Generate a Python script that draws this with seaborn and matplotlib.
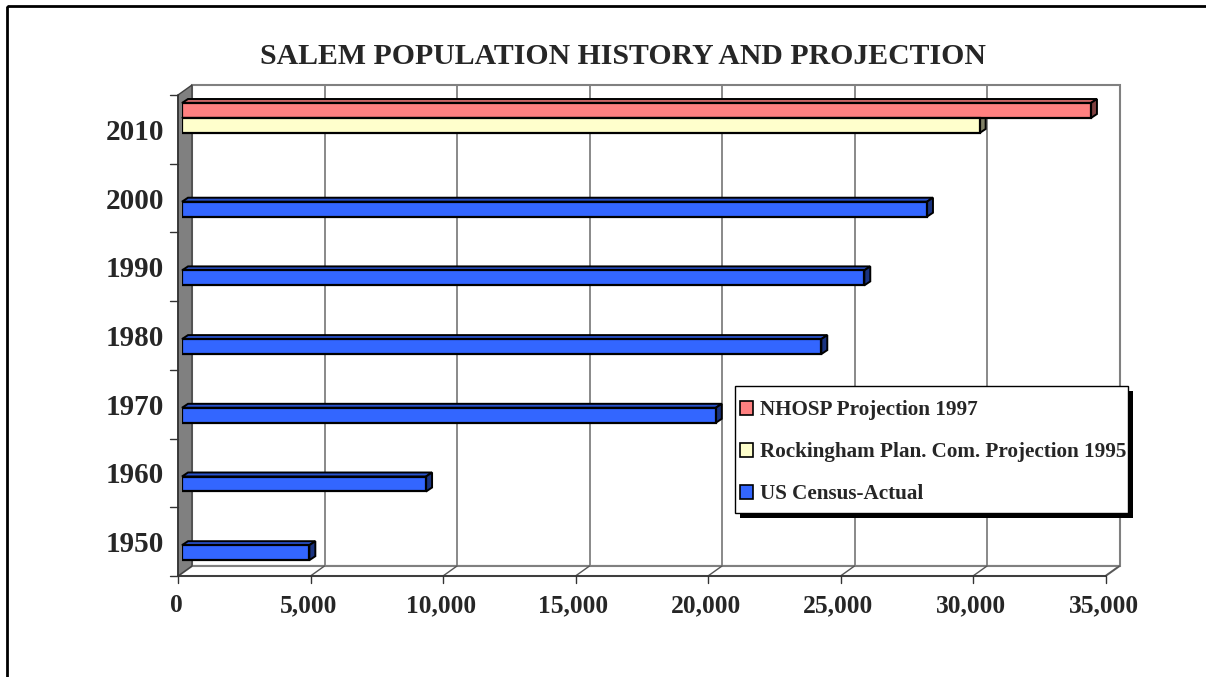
import matplotlib
matplotlib.use('Agg')
import matplotlib.pyplot as plt
import seaborn as sns
import pandas as pd
import numpy as np
import matplotlib.colors as mcolors
from matplotlib.patches import Polygon, Rectangle, Patch
from matplotlib.transforms import ScaledTranslation, IdentityTransform

# ---------------- data ----------------
years = ['2010', '2000', '1990', '1980', '1970', '1960', '1950']
census_years = ['2000', '1990', '1980', '1970', '1960', '1950']
census_values = [28112, 25746, 24124, 20142, 9210, 4805]
nhosp_years = ['2010']
nhosp_values = [34300]
rpc_years = ['2010']
rpc_values = [30100]
series = ['NHOSP Projection 1997', 'Rockingham Plan. Com. Projection 1995', 'US Census-Actual']
colors = ['#FF8080', '#FFFFCC', '#3366FF']
xticks = [0, 5000, 10000, 15000, 20000, 25000, 30000, 35000]
xtick_labels = ['0', '5,000', '10,000', '15,000', '20,000', '25,000', '30,000', '35,000']
title = 'SALEM POPULATION HISTORY AND PROJECTION'

rows = []
for y, v in zip(nhosp_years, nhosp_values):
    rows.append((y, series[0], v))
for y, v in zip(rpc_years, rpc_values):
    rows.append((y, series[1], v))
for y, v in zip(census_years, census_values):
    rows.append((y, series[2], v))
df = pd.DataFrame(rows, columns=['year', 'series', 'population'])

# ---------------- style ----------------
sns.set_style('white')
plt.rcParams['font.family'] = ['Liberation Serif', 'DejaVu Serif']

W, H = 1206, 677
fig = plt.figure(figsize=(W / 100, H / 100), dpi=100)
fig.patch.set_facecolor('white')


def fx(px):
    return px / W


def fy(py):
    return 1 - py / H


# background axes in pixel coordinates
bg = fig.add_axes([0, 0, 1, 1])
bg.set_xlim(0, W)
bg.set_ylim(H, 0)
bg.axis('off')

# bar axes
left_px, right_px, top_px, bot_px = 182, 1109.5, 95, 576
ax = fig.add_axes([fx(left_px), fy(bot_px), fx(right_px) - fx(left_px), (bot_px - top_px) / H])
ax.patch.set_alpha(0)

sns.barplot(data=df, y='year', x='population', hue='series', order=years,
            hue_order=series, palette=colors, width=0.655, orient='h',
            edgecolor='black', linewidth=1.6, saturation=1, errorbar=None,
            dodge=True, legend=False, ax=ax)
ax.set_xlim(0, 35000)
ax.set_ylim(6.5575, -0.444)
ax.set_autoscale_on(False)
for s in ax.spines.values():
    s.set_visible(False)
ax.set_xlabel('')
ax.set_ylabel('')

ax.set_xticks(xticks, xtick_labels)
ax.tick_params(axis='x', length=0, pad=13, labelsize=18.4)
for lbl in ax.get_xticklabels():
    lbl.set_fontweight('bold')
    lbl.set_transform(lbl.get_transform() + ScaledTranslation(-6 / 100, 0, fig.dpi_scale_trans))
ax.set_yticks([i + 0.058 for i in range(len(years))], years)
ax.tick_params(axis='y', length=0, pad=13, labelsize=21)
for lbl in ax.get_yticklabels():
    lbl.set_fontweight('bold')

# ---------------- 3D frame (walls, floor, grid) ----------------
def xpix(v):
    return ax.transData.transform((v, 0))[0]

depth_x, depth_y = 14, -10
front0 = xpix(0) - 4
back_top = top_px + depth_y  # 85
floor_front = bot_px
floor_back = bot_px + depth_y
xmax_front = xpix(35000) - 4

# back wall
bg.add_patch(Polygon([(front0 + depth_x, back_top), (xmax_front + depth_x, back_top),
                      (xmax_front + depth_x, floor_back), (front0 + depth_x, floor_back)],
                     closed=True, facecolor='white', edgecolor='#808080', lw=1.5, zorder=1))
# floor
bg.add_patch(Polygon([(front0, floor_front), (front0 + depth_x, floor_back),
                      (xmax_front + depth_x, floor_back), (xmax_front, floor_front)],
                     closed=True, facecolor='white', edgecolor='#808080', lw=1.5, zorder=1.5))
# gridlines
for v in xticks[1:]:
    fxp = xpix(v) - 4
    bg.plot([fxp + depth_x, fxp + depth_x], [back_top, floor_back], color='#808080', lw=1.3, zorder=2)
    bg.plot([fxp + depth_x, fxp], [floor_back, floor_front], color='#555555', lw=1, zorder=2)
    bg.plot([fxp, fxp], [floor_front, floor_front + 7], color='#333333', lw=1, zorder=3)
bg.plot([front0, front0], [floor_front, floor_front + 7], color='#333333', lw=1, zorder=3)
# left wall
bg.add_patch(Polygon([(front0, top_px), (front0 + depth_x, back_top),
                      (front0 + depth_x, floor_back), (front0, floor_front)],
                     closed=True, facecolor='#808080', edgecolor='#404040', lw=1, zorder=2.5))
# axis lines
bg.plot([front0, xmax_front], [floor_front, floor_front], color='#333333', lw=1.2, zorder=3)
bg.plot([front0, front0], [top_px, floor_front], color='#333333', lw=1.2, zorder=3)
cat_h = (bot_px - top_px) / len(years)
for i in range(len(years) + 1):
    yy = top_px + i * cat_h
    bg.plot([front0 - 8, front0], [yy, yy], color='#333333', lw=1, zorder=3)

# outer border
bg.add_patch(Rectangle((7, 6), W, H, facecolor='none', edgecolor='black', lw=2, zorder=5))

# title
fig.text(fx(623), fy(56), title, ha='center', va='center', fontsize=21.4, fontweight='bold')

# ---------------- 3D faces on bars ----------------
dx, dy = 6, 4
bars = [p for p in ax.patches if isinstance(p, Rectangle) and p.get_width() > 0]
for p in bars:
    (x0, ya), (x1, yb) = ax.transData.transform([(p.get_x(), p.get_y()),
                                                 (p.get_x() + p.get_width(), p.get_y() + p.get_height())])
    ytop, ybot = max(ya, yb), min(ya, yb)
    fc = np.array(mcolors.to_rgb(p.get_facecolor()))
    top = Polygon([(x0, ytop), (x1, ytop), (x1 + dx, ytop + dy), (x0 + dx, ytop + dy)], closed=True,
                  facecolor=fc * 0.8, edgecolor='black', lw=1.4, transform=IdentityTransform(),
                  clip_on=False, zorder=0.9)
    side = Polygon([(x1, ybot), (x1, ytop), (x1 + dx, ytop + dy), (x1 + dx, ybot + dy)], closed=True,
                   facecolor=fc * 0.5, edgecolor='black', lw=1.4, transform=IdentityTransform(),
                   clip_on=False, zorder=0.9)
    ax.add_patch(top)
    ax.add_patch(side)

# ---------------- legend ----------------
# frame + shadow
lx0, ly0, lx1, ly1 = 735, 386, 1128, 513
bg.add_patch(Rectangle((lx0 + 5, ly0 + 5), lx1 - lx0, ly1 - ly0, facecolor='black',
                       edgecolor='none', zorder=6))
bg.add_patch(Rectangle((lx0, ly0), lx1 - lx0, ly1 - ly0, facecolor='white',
                       edgecolor='black', lw=1, zorder=6.1))

handles = [Patch(facecolor=c, edgecolor='black', linewidth=1.2) for c in colors]
leg = ax.legend(handles, series, loc='upper left', bbox_to_anchor=(fx(740), fy(400.5)),
                bbox_transform=fig.transFigure, borderaxespad=0, frameon=False,
                prop={'weight': 'bold', 'size': 15.2},
                handlelength=0.6, handleheight=0.6, handletextpad=0.33, labelspacing=1.04,
                borderpad=0)
leg.set_zorder(5)

fig.savefig('out.png', dpi=100)
